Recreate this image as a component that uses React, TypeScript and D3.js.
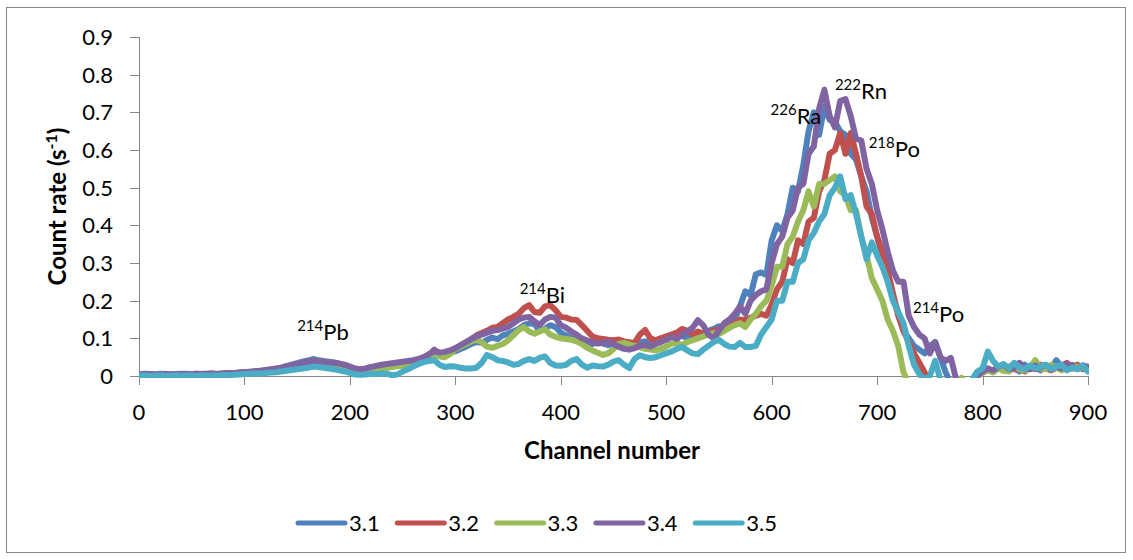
import React from "react";
import * as d3 from "d3";

// Spectrum sampled every 5 channels, from channel 0 to 900
const CHANNEL_STEP = 5;
const channels: number[] = d3.range(0, 900 + CHANNEL_STEP, CHANNEL_STEP);

const seriesNames = ["3.1", "3.2", "3.3", "3.4", "3.5"];
const seriesColors = ["#4F81BD", "#C0504D", "#9BBB59", "#8064A2", "#4BACC6"];

const rate31 = [
  0.004, 0.005, 0.003, 0.004, 0.006, 0.004, 0.003, 0.005, 0.004, 0.006, 0.005, 0.004, 0.006, 0.005, 0.004, 0.006, 0.007, 0.006, 0.008, 0.009,
  0.010, 0.011, 0.013, 0.012, 0.015, 0.017, 0.019, 0.022, 0.026, 0.030, 0.034, 0.038, 0.041, 0.045, 0.042, 0.040, 0.038, 0.036, 0.032, 0.028,
  0.020, 0.015, 0.012, 0.014, 0.018, 0.022, 0.025, 0.024, 0.028, 0.031, 0.034, 0.038, 0.036, 0.042, 0.048, 0.055, 0.070, 0.058, 0.056, 0.062,
  0.066, 0.072, 0.078, 0.085, 0.090, 0.088, 0.096, 0.102, 0.098, 0.108, 0.112, 0.118, 0.125, 0.135, 0.140, 0.138, 0.120, 0.126, 0.135, 0.130,
  0.115, 0.108, 0.100, 0.096, 0.090, 0.088, 0.085, 0.092, 0.086, 0.082, 0.084, 0.080, 0.078, 0.083, 0.086, 0.090, 0.092, 0.088, 0.095, 0.100,
  0.098, 0.105, 0.112, 0.106, 0.100, 0.108, 0.115, 0.110, 0.120, 0.125, 0.132, 0.128, 0.140, 0.150, 0.185, 0.225, 0.215, 0.270, 0.275, 0.268,
  0.360, 0.400, 0.385, 0.430, 0.500, 0.490, 0.560, 0.650, 0.700, 0.640, 0.715, 0.680, 0.675, 0.650, 0.640, 0.590, 0.575, 0.530, 0.490, 0.420,
  0.370, 0.320, 0.260, 0.210, 0.170, 0.120, 0.100, 0.080, 0.070, 0.060, 0.080, 0.090, 0.050, 0.010, -0.020, -0.020, -0.030, -0.020, -0.020, 0.005,
  0.015, 0.020, 0.010, 0.025, 0.030, 0.015, 0.020, 0.012, 0.030, 0.018, 0.022, 0.015, 0.028, 0.020, 0.042, 0.025, 0.018, 0.030, 0.022, 0.025,
  0.020,
];

const rate32 = [
  0.003, 0.004, 0.005, 0.003, 0.004, 0.005, 0.004, 0.003, 0.005, 0.004, 0.005, 0.006, 0.004, 0.005, 0.006, 0.005, 0.007, 0.006, 0.007, 0.008,
  0.009, 0.010, 0.012, 0.013, 0.014, 0.016, 0.018, 0.020, 0.024, 0.027, 0.030, 0.034, 0.037, 0.040, 0.038, 0.036, 0.035, 0.033, 0.030, 0.026,
  0.020, 0.014, 0.012, 0.013, 0.017, 0.020, 0.023, 0.025, 0.027, 0.030, 0.033, 0.036, 0.038, 0.040, 0.046, 0.055, 0.068, 0.062, 0.060, 0.066,
  0.072, 0.080, 0.088, 0.098, 0.108, 0.114, 0.120, 0.128, 0.130, 0.140, 0.150, 0.157, 0.165, 0.180, 0.188, 0.170, 0.168, 0.185, 0.188, 0.175,
  0.157, 0.155, 0.150, 0.149, 0.135, 0.120, 0.105, 0.100, 0.098, 0.096, 0.095, 0.097, 0.092, 0.090, 0.088, 0.110, 0.122, 0.100, 0.095, 0.100,
  0.105, 0.110, 0.115, 0.125, 0.120, 0.110, 0.118, 0.112, 0.115, 0.120, 0.125, 0.122, 0.130, 0.140, 0.150, 0.148, 0.155, 0.160, 0.165, 0.160,
  0.190, 0.230, 0.250, 0.310, 0.300, 0.360, 0.350, 0.410, 0.420, 0.490, 0.520, 0.590, 0.600, 0.645, 0.590, 0.645, 0.590, 0.530, 0.450, 0.430,
  0.370, 0.330, 0.280, 0.220, 0.160, 0.120, 0.090, 0.060, 0.035, 0.010, -0.020, -0.020, -0.020, -0.020, -0.020, -0.020, -0.006, -0.020, -0.020, 0.000,
  0.010, 0.018, 0.012, 0.022, 0.015, 0.025, 0.018, 0.020, 0.012, 0.025, 0.018, 0.030, 0.020, 0.015, 0.022, 0.028, 0.035, 0.020, 0.030, 0.018,
  0.020,
];

const rate33 = [
  0.003, 0.004, 0.003, 0.005, 0.004, 0.003, 0.005, 0.004, 0.003, 0.005, 0.004, 0.005, 0.004, 0.006, 0.005, 0.004, 0.006, 0.007, 0.006, 0.008,
  0.009, 0.010, 0.011, 0.012, 0.014, 0.016, 0.018, 0.020, 0.023, 0.026, 0.029, 0.032, 0.035, 0.037, 0.036, 0.038, 0.035, 0.032, 0.028, 0.024,
  0.018, 0.013, 0.011, 0.012, 0.015, 0.018, 0.020, 0.022, 0.024, 0.026, 0.028, 0.030, 0.032, 0.034, 0.040, 0.048, 0.055, 0.052, 0.050, 0.058,
  0.072, 0.078, 0.085, 0.092, 0.096, 0.090, 0.078, 0.075, 0.080, 0.085, 0.095, 0.108, 0.122, 0.130, 0.118, 0.112, 0.118, 0.124, 0.110, 0.104,
  0.100, 0.098, 0.096, 0.092, 0.085, 0.075, 0.068, 0.062, 0.056, 0.060, 0.072, 0.085, 0.088, 0.084, 0.080, 0.076, 0.072, 0.070, 0.068, 0.072,
  0.078, 0.086, 0.088, 0.082, 0.090, 0.095, 0.100, 0.105, 0.110, 0.114, 0.112, 0.120, 0.128, 0.135, 0.140, 0.130, 0.150, 0.165, 0.185, 0.200,
  0.240, 0.290, 0.290, 0.350, 0.370, 0.410, 0.440, 0.490, 0.450, 0.510, 0.510, 0.520, 0.530, 0.490, 0.480, 0.440, 0.440, 0.370, 0.320, 0.260,
  0.230, 0.200, 0.150, 0.120, 0.080, 0.010, -0.020, -0.020, -0.020, -0.020, -0.020, -0.020, -0.020, -0.020, -0.020, -0.020, -0.005, -0.020, -0.020, 0.000,
  0.008, 0.015, 0.010, 0.020, 0.014, 0.012, 0.025, 0.018, 0.015, 0.022, 0.042, 0.020, 0.018, 0.030, 0.022, 0.015, 0.028, 0.020, 0.025, 0.022,
  0.018,
];

const rate34 = [
  0.004, 0.006, 0.005, 0.004, 0.005, 0.006, 0.004, 0.005, 0.006, 0.005, 0.004, 0.006, 0.005, 0.006, 0.007, 0.005, 0.006, 0.008, 0.007, 0.009,
  0.010, 0.011, 0.012, 0.014, 0.016, 0.018, 0.020, 0.022, 0.026, 0.029, 0.032, 0.035, 0.037, 0.040, 0.038, 0.037, 0.036, 0.035, 0.033, 0.030,
  0.025, 0.020, 0.018, 0.020, 0.024, 0.027, 0.030, 0.032, 0.034, 0.036, 0.038, 0.040, 0.042, 0.045, 0.050, 0.058, 0.066, 0.062, 0.064, 0.068,
  0.074, 0.082, 0.090, 0.098, 0.105, 0.110, 0.115, 0.120, 0.122, 0.126, 0.130, 0.140, 0.150, 0.155, 0.157, 0.145, 0.136, 0.150, 0.157, 0.155,
  0.135, 0.128, 0.118, 0.110, 0.100, 0.094, 0.090, 0.086, 0.088, 0.092, 0.084, 0.078, 0.072, 0.070, 0.074, 0.080, 0.082, 0.078, 0.085, 0.090,
  0.096, 0.104, 0.098, 0.110, 0.118, 0.128, 0.148, 0.135, 0.110, 0.100, 0.120, 0.140, 0.150, 0.165, 0.185, 0.165, 0.200, 0.215, 0.225, 0.230,
  0.300, 0.350, 0.370, 0.420, 0.440, 0.500, 0.510, 0.590, 0.610, 0.710, 0.760, 0.690, 0.660, 0.730, 0.735, 0.690, 0.630, 0.625, 0.550, 0.510,
  0.440, 0.390, 0.330, 0.280, 0.250, 0.250, 0.160, 0.130, 0.110, 0.100, 0.060, 0.090, 0.050, 0.040, 0.048, -0.010, -0.020, -0.020, -0.020, 0.000,
  0.012, 0.020, 0.015, 0.025, 0.030, 0.018, 0.022, 0.035, 0.020, 0.018, 0.028, 0.022, 0.030, 0.018, 0.025, 0.020, 0.032, 0.022, 0.018, 0.028,
  0.025,
];

const rate35 = [
  0.001, 0.002, 0.000, 0.001, 0.002, 0.001, 0.000, 0.002, 0.001, 0.002, 0.001, 0.000, 0.002, 0.001, 0.002, 0.001, 0.003, 0.002, 0.003, 0.004,
  0.005, 0.006, 0.007, 0.006, 0.008, 0.009, 0.010, 0.012, 0.014, 0.016, 0.018, 0.020, 0.022, 0.025, 0.024, 0.022, 0.020, 0.018, 0.015, 0.012,
  0.008, 0.004, 0.003, 0.004, 0.006, 0.005, 0.007, 0.006, 0.002, 0.004, 0.012, 0.018, 0.025, 0.032, 0.037, 0.040, 0.042, 0.030, 0.024, 0.026,
  0.025, 0.022, 0.020, 0.020, 0.022, 0.035, 0.056, 0.050, 0.042, 0.040, 0.036, 0.030, 0.032, 0.040, 0.045, 0.040, 0.048, 0.052, 0.035, 0.028,
  0.027, 0.030, 0.040, 0.045, 0.030, 0.022, 0.028, 0.026, 0.025, 0.030, 0.038, 0.042, 0.030, 0.021, 0.045, 0.055, 0.050, 0.048, 0.050, 0.055,
  0.060, 0.065, 0.072, 0.077, 0.068, 0.060, 0.058, 0.070, 0.080, 0.090, 0.096, 0.085, 0.078, 0.077, 0.088, 0.077, 0.077, 0.080, 0.110, 0.130,
  0.150, 0.200, 0.200, 0.250, 0.250, 0.300, 0.310, 0.360, 0.380, 0.410, 0.430, 0.480, 0.500, 0.530, 0.470, 0.480, 0.430, 0.370, 0.310, 0.355,
  0.320, 0.290, 0.250, 0.200, 0.170, 0.140, 0.080, 0.030, 0.005, -0.010, 0.000, 0.040, -0.010, -0.020, -0.020, -0.020, -0.020, -0.020, -0.010, 0.012,
  0.020, 0.065, 0.040, 0.025, 0.032, 0.020, 0.035, 0.022, 0.018, 0.028, 0.020, 0.025, 0.030, 0.018, 0.025, 0.030, 0.015, 0.022, 0.018, 0.028,
  0.012,
];

const seriesValues = [rate31, rate32, rate33, rate34, rate35];

const xTicks = [0, 100, 200, 300, 400, 500, 600, 700, 800, 900];
const yTicks = [0, 0.1, 0.2, 0.3, 0.4, 0.5, 0.6, 0.7, 0.8, 0.9];

// Peak labels: isotope mass number (superscript), element, channel and rate of the label's left baseline
const peakMass = ["214", "214", "226", "222", "218", "214"];
const peakElement = ["Pb", "Bi", "Ra", "Rn", "Po", "Po"];
const peakChannel = [150, 361, 599, 660, 692, 734];
const peakRate = [0.096, 0.194, 0.67, 0.735, 0.582, 0.143];

const W = 1133;
const H = 560;
const FONT = "Lato, 'Open Sans', sans-serif";
const AXIS = "#868686";

export default function App() {
  const left = 139;
  const right = 1088;
  const top = 37;
  const bottom = 376;

  const x = d3.scaleLinear().domain([0, 900]).range([left, right]);
  const y = d3.scaleLinear().domain([0, 0.9]).range([bottom, top]);

  const line = d3
    .line<number>()
    .x((_, i) => x(channels[i]))
    .y((v) => y(v));

  const legendStart = 298;
  const legendGap = 99.3;
  const legendY = 523;

  return (
    <svg
      width={W}
      height={H}
      style={{ position: "absolute", left: 0, top: 0, background: "#fff" }}
      fontFamily={FONT}
    >
      <rect x={0} y={0} width={W} height={H} fill="#fff" />
      <rect x={6.5} y={7.5} width={1119} height={545} fill="none" stroke={AXIS} strokeWidth={1} />

      <defs>
        <clipPath id="plot-clip">
          <rect x={left} y={top - 4} width={right - left + 1} height={bottom - top + 6} />
        </clipPath>
      </defs>

      {/* y axis */}
      <line x1={left + 0.5} x2={left + 0.5} y1={top} y2={bottom} stroke={AXIS} />
      {yTicks.map((t) => (
        <g key={"y" + t}>
          <line x1={left - 9} x2={left} y1={Math.round(y(t)) + 0.5} y2={Math.round(y(t)) + 0.5} stroke={AXIS} />
          <text x={113} y={y(t)} dy="0.36em" textAnchor="end" fontSize={22} fill="#000">
            {t === 0 ? "0" : t.toFixed(1)}
          </text>
        </g>
      ))}

      {/* x axis */}
      <line x1={left} x2={right} y1={bottom + 0.5} y2={bottom + 0.5} stroke={AXIS} />
      {xTicks.map((t) => (
        <g key={"x" + t}>
          <line x1={Math.round(x(t)) + 0.5} x2={Math.round(x(t)) + 0.5} y1={bottom} y2={bottom + 9} stroke={AXIS} />
          <text x={x(t)} y={420} textAnchor="middle" fontSize={22} fill="#000">
            {t}
          </text>
        </g>
      ))}

      {/* series */}
      <g clipPath="url(#plot-clip)">
        {seriesValues.map((vals, si) => (
          <path
            key={seriesNames[si]}
            d={line(vals) || ""}
            fill="none"
            stroke={seriesColors[si]}
            strokeWidth={6}
            strokeLinejoin="round"
            strokeLinecap="round"
          />
        ))}
      </g>

      {/* peak labels */}
      {peakMass.map((m, i) => (
        <text key={"pk" + i} x={x(peakChannel[i])} y={y(peakRate[i])} fontSize={22} fill="#000">
          <tspan fontSize={15} dy={-9}>
            {m}
          </tspan>
          <tspan dy={9}>{peakElement[i]}</tspan>
        </text>
      ))}

      {/* axis titles */}
      <text
        transform={`translate(66, ${(top + bottom) / 2}) rotate(-90)`}
        textAnchor="middle"
        fontSize={24}
        fontWeight="bold"
        fill="#000"
      >
        Count rate (s
        <tspan fontSize={16} dy={-9}>
          -1
        </tspan>
        <tspan dy={9}>)</tspan>
      </text>
      <text x={612} y={459} textAnchor="middle" fontSize={24} fontWeight="bold" fill="#000">
        Channel number
      </text>

      {/* legend */}
      {seriesNames.map((n, i) => {
        const lx = legendStart + i * legendGap;
        return (
          <g key={"lg" + n}>
            <line x1={lx} x2={lx + 47} y1={legendY} y2={legendY} stroke={seriesColors[i]} strokeWidth={5} strokeLinecap="round" />
            <text x={lx + 51} y={legendY} dy="0.36em" fontSize={22} fill="#000">
              {n}
            </text>
          </g>
        );
      })}
    </svg>
  );
}
